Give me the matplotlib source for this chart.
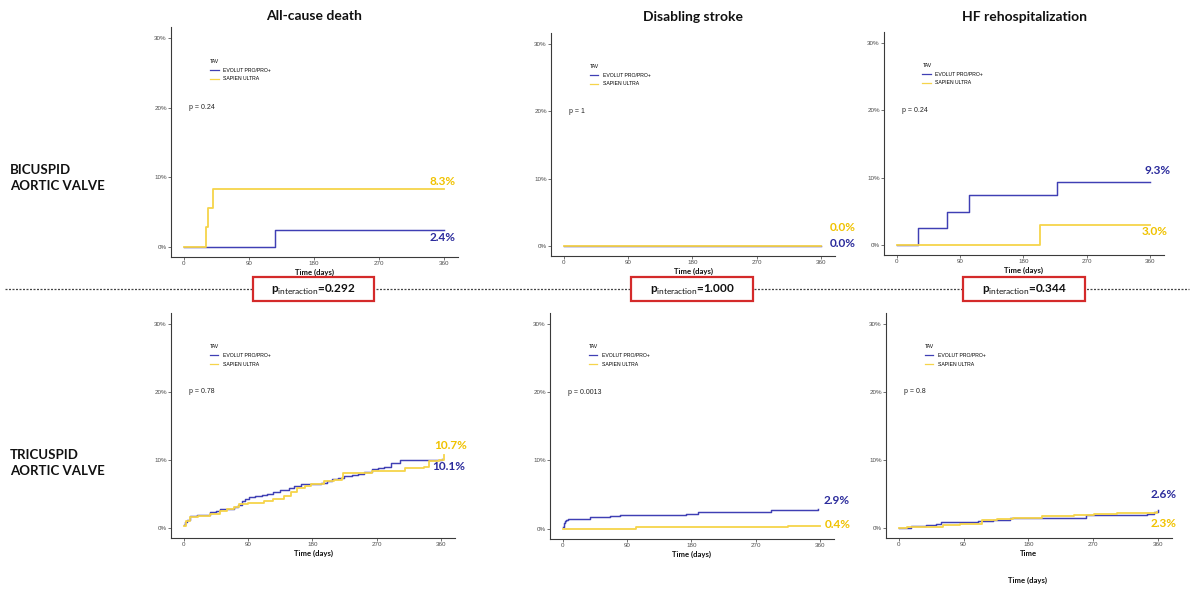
import matplotlib
matplotlib.use("Agg")
import matplotlib.pyplot as plt
from matplotlib.lines import Line2D
from matplotlib.patches import Rectangle
from matplotlib.ticker import FuncFormatter

plt.rcParams["mathtext.fontset"] = "custom"
plt.rcParams["mathtext.rm"] = "Lato"
plt.rcParams["mathtext.bf"] = "Lato:bold"

# ---------------- data ----------------
outcomes = ["All-cause death", "Disabling stroke", "HF rehospitalization"]
valve_groups = ["BICUSPID\nAORTIC VALVE", "TRICUSPID\nAORTIC VALVE"]
devices = ["EVOLUT PRO/PRO+", "SAPIEN ULTRA"]
legend_title = "TAV"
p_values = [["p = 0.24", "p = 1", "p = 0.24"],
            ["p = 0.78", "p = 0.0013", "p = 0.8"]]
p_interaction = ["0.292", "1.000", "0.344"]
x_ticks = [0, 90, 180, 270, 360]
y_ticks = [0, 10, 20, 30]

# Bicuspid: all-cause death
bav_death_evolut_t = [0, 126, 360]
bav_death_evolut_v = [0, 2.4, 2.4]
bav_death_sapien_t = [0, 31, 34, 40, 360]
bav_death_sapien_v = [0, 2.8, 5.6, 8.3, 8.3]

# Bicuspid: disabling stroke
bav_stroke_evolut_t = [0, 360]
bav_stroke_evolut_v = [0.0, 0.0]
bav_stroke_sapien_t = [0, 360]
bav_stroke_sapien_v = [0.0, 0.0]

# Bicuspid: HF rehospitalization
bav_hf_evolut_t = [0, 30, 71, 103, 228, 360]
bav_hf_evolut_v = [0, 2.5, 4.9, 7.4, 9.3, 9.3]
bav_hf_sapien_t = [0, 204, 360]
bav_hf_sapien_v = [0, 3.0, 3.0]

# Tricuspid: all-cause death
tav_death_evolut_t = [0, 2, 5, 8, 18, 37, 45, 51, 60, 70, 76, 81, 86, 91,
                      100, 110, 117, 125, 135, 147, 155, 164, 178, 192, 200,
                      208, 216, 225, 235, 244, 252, 263, 272, 281, 290, 303,
                      340, 362]
tav_death_evolut_v = [0.4, 0.8, 1.2, 1.7, 1.9, 2.3, 2.5, 2.7, 2.8, 3.0, 3.4,
                      4.0, 4.3, 4.6, 4.7, 4.8, 4.9, 5.3, 5.6, 5.9, 6.2, 6.4,
                      6.5, 6.6, 6.9, 7.2, 7.4, 7.6, 7.7, 7.9, 8.2, 8.6, 8.8,
                      9.0, 9.5, 10.0, 10.0, 10.1]
tav_death_sapien_t = [0, 3, 8, 20, 37, 51, 60, 70, 77, 90, 100, 112, 125,
                      140, 150, 159, 170, 178, 197, 210, 221, 223, 240, 263,
                      285, 310, 336, 343, 350, 357, 364]
tav_death_sapien_v = [0.3, 1.0, 1.6, 1.8, 2.0, 2.5, 2.8, 3.0, 3.5, 3.6, 3.7,
                      4.0, 4.3, 4.7, 5.2, 5.9, 6.2, 6.4, 6.9, 7.1, 7.4, 8.1,
                      8.1, 8.3, 8.4, 8.8, 9.0, 9.8, 9.9, 10.0, 10.7]

# Tricuspid: disabling stroke
tav_stroke_evolut_t = [0, 1, 2, 3, 5, 7, 38, 66, 80, 173, 189, 207, 292, 358]
tav_stroke_evolut_v = [0.3, 0.6, 0.9, 1.1, 1.3, 1.5, 1.7, 1.8, 2.0, 2.2, 2.4,
                       2.5, 2.7, 2.9]
tav_stroke_sapien_t = [0, 103, 315, 360]
tav_stroke_sapien_v = [0, 0.2, 0.4, 0.4]

# Tricuspid: HF rehospitalization
tav_hf_evolut_t = [0, 17, 38, 52, 59, 110, 131, 154, 261, 345, 355, 360]
tav_hf_evolut_v = [0, 0.2, 0.4, 0.5, 0.9, 1.0, 1.2, 1.4, 1.85, 2.1, 2.3, 2.6]
tav_hf_sapien_t = [0, 11, 62, 85, 115, 136, 159, 199, 243, 271, 303, 359]
tav_hf_sapien_v = [0, 0.15, 0.4, 0.6, 1.1, 1.3, 1.5, 1.7, 1.9, 2.0, 2.2, 2.3]

curves = [
    [((bav_death_evolut_t, bav_death_evolut_v), (bav_death_sapien_t, bav_death_sapien_v)),
     ((bav_stroke_evolut_t, bav_stroke_evolut_v), (bav_stroke_sapien_t, bav_stroke_sapien_v)),
     ((bav_hf_evolut_t, bav_hf_evolut_v), (bav_hf_sapien_t, bav_hf_sapien_v))],
    [((tav_death_evolut_t, tav_death_evolut_v), (tav_death_sapien_t, tav_death_sapien_v)),
     ((tav_stroke_evolut_t, tav_stroke_evolut_v), (tav_stroke_sapien_t, tav_stroke_sapien_v)),
     ((tav_hf_evolut_t, tav_hf_evolut_v), (tav_hf_sapien_t, tav_hf_sapien_v))],
]

# ---------------- styling / layout ----------------
W, H = 1191, 590
LINE_BLUE = "#3f3fb4"
LINE_YELLOW = "#f6d44a"
TEXT_BLUE = "#2b2b9c"
TEXT_YELLOW = "#f0c200"
BOX_RED = "#d42a2a"
BOLD_FONT = "Lato"
PLOT_FONT = "Liberation Sans"

# axes rectangles in pixels: (left, top, right, bottom)
panel_px = [
    [(171, 27, 458, 257), (551, 33, 835, 256), (884, 32, 1164, 255)],
    [(171, 313, 455, 538), (550, 313, 834, 539), (886, 313, 1172, 538)],
]
title_px = [(314, 16), (693, 17), (1024, 17)]
xlabel_text = [["Time (days)", "Time (days)", "Time (days)"],
               ["Time (days)", "Time (days)", "Time"]]
row_label_px = [(10, 178), (10, 463)]

# end-value label offsets in pixels (dx, dy upward) and alignment, evolut then sapien
end_label_style = [
    [[(12, -8, "right"), (12, 7, "right")],
     [(9, 2, "left"), (9, 18, "left")],
     [(21, 12, "right"), (18, -7, "right")]],
    [[(23, -7.5, "right"), (24, 9.5, "right")],
     [(5, 8, "left"), (5, 2, "left")],
     [(6, 16, "center"), (7, -11, "center")]],
]

fig = plt.figure(figsize=(W / 100, H / 100), dpi=100)
fig.patch.set_facecolor("white")


def fx(x):
    return x / W


def fy(y):
    return 1 - y / H


pct_fmt = FuncFormatter(lambda v, _: f"{int(round(v))}%")

for r in range(2):
    for c in range(3):
        x0, y0, x1, y1 = panel_px[r][c]
        ax = fig.add_axes([fx(x0), fy(y1), (x1 - x0) / W, (y1 - y0) / H])
        (et, ev), (st, sv) = curves[r][c]
        ax.step(et, ev, where="post", color=LINE_BLUE, lw=1.05, zorder=3)
        ax.step(st, sv, where="post", color=LINE_YELLOW, lw=1.3, zorder=4)

        ax.set_xlim(-18, 380)
        ax.set_ylim(-1.5, 31.6)
        ax.set_xticks(x_ticks)
        ax.set_yticks(y_ticks)
        ax.yaxis.set_major_formatter(pct_fmt)
        for side in ("top", "right"):
            ax.spines[side].set_visible(False)
        for side in ("left", "bottom"):
            ax.spines[side].set_color("#3a3a3a")
            ax.spines[side].set_linewidth(0.8)
        ax.tick_params(length=2, width=0.5, color="#3a3a3a", labelsize=4.5,
                       labelcolor="#4d4d4d", pad=1.0)
        for lab in ax.get_xticklabels() + ax.get_yticklabels():
            lab.set_fontfamily(PLOT_FONT)

        handles = [Line2D([], [], color=LINE_BLUE, lw=0.9),
                   Line2D([], [], color=LINE_YELLOW, lw=0.9)]
        ax.legend(handles, devices, title=legend_title, loc="upper left",
                  bbox_to_anchor=(0.137, 0.862), frameon=False,
                  prop={"family": PLOT_FONT, "size": 3.7},
                  title_fontproperties={"family": PLOT_FONT, "size": 3.7},
                  handlelength=1.6, handletextpad=0.9, labelspacing=0.75,
                  borderpad=0, borderaxespad=0, alignment="left")

        ax.text(7, 20, p_values[r][c], fontsize=5, family=PLOT_FONT,
                color="#222222", ha="left", va="center")

        # final cumulative incidence labels
        for (t, v), color, (dx, dy, ha) in zip(((et, ev), (st, sv)),
                                              (TEXT_BLUE, TEXT_YELLOW),
                                              end_label_style[r][c]):
            ax.annotate(f"{v[-1]:.1f}%", xy=(t[-1], v[-1]),
                        xytext=(dx * 0.72, dy * 0.72), textcoords="offset points",
                        ha=ha, va="center", color=color, fontsize=8.5,
                        fontweight="bold", family=BOLD_FONT,
                        annotation_clip=False, zorder=5)

        # x-axis title
        fig.text(fx((x0 + x1) / 2), fy(y1 + 15), xlabel_text[r][c],
                 ha="center", va="center", fontsize=5.6, fontweight="bold",
                 family=BOLD_FONT, color="#111111")

# extra axis title under the last panel
fig.text(fx(1028), fy(580), "Time (days)", ha="center", va="center",
         fontsize=5.6, fontweight="bold", family=BOLD_FONT, color="#111111")

# column titles
for (x, y), name in zip(title_px, outcomes):
    fig.text(fx(x), fy(y), name, ha="center", va="center", fontsize=10,
             fontweight="bold", family=BOLD_FONT, color="#111111")

# row labels
for (x, y), name in zip(row_label_px, valve_groups):
    fig.text(fx(x), fy(y), name, ha="left", va="center", fontsize=9.5,
             fontweight="bold", family=BOLD_FONT, color="#111111",
             linespacing=1.45)

# divider between the two rows
fig.add_artist(Line2D([fx(5), fx(1189)], [fy(289), fy(289)],
                      transform=fig.transFigure, color="#444444", lw=0.9,
                      linestyle=(0, (1.6, 1.2)), zorder=1))

# interaction p-value boxes
box_px = [(253, 277, 374, 301), (631, 277, 753, 301), (963, 277, 1085, 301)]
for (bx0, by0, bx1, by1), pv in zip(box_px, p_interaction):
    fig.add_artist(Rectangle((fx(bx0), fy(by1)), (bx1 - bx0) / W, (by1 - by0) / H,
                             transform=fig.transFigure, facecolor="white",
                             edgecolor=BOX_RED, lw=1.6, zorder=2))
    fig.text(fx((bx0 + bx1) / 2), fy((by0 + by1) / 2 + 1),
             r"$\mathbf{p}_{\mathrm{interaction}}$" + f"={pv}",
             ha="center", va="center", fontsize=8.5, fontweight="bold",
             family=BOLD_FONT, color="#111111", zorder=3)

fig.savefig("out.png", dpi=100, facecolor="white")
